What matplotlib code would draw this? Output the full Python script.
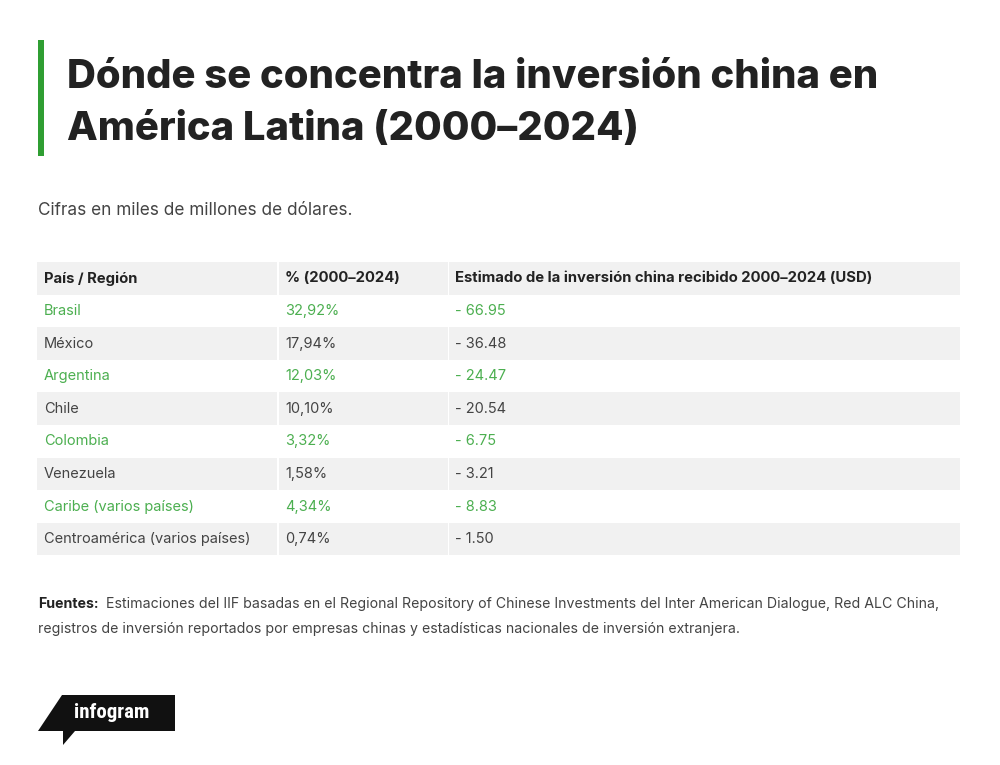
import matplotlib
matplotlib.use('agg')
import matplotlib.pyplot as plt
from matplotlib.patches import Rectangle, Polygon

# data
title_lines = ['Dónde se concentra la inversión china en', 'América Latina (2000–2024)']
subtitle = 'Cifras en miles de millones de dólares.'
headers = ['País / Región', '% (2000–2024)', 'Estimado de la inversión china recibido 2000–2024 (USD)']
regions = ['Brasil', 'México', 'Argentina', 'Chile', 'Colombia', 'Venezuela',
           'Caribe (varios países)', 'Centroamérica (varios países)']
shares = ['32,92%', '17,94%', '12,03%', '10,10%', '3,32%', '1,58%', '4,34%', '0,74%']
amounts = ['- 66.95', '- 36.48', '- 24.47', '- 20.54', '- 6.75', '- 3.21', '- 8.83', '- 1.50']
source_bold = 'Fuentes:'
source_lines = ['Estimaciones del IIF basadas en el Regional Repository of Chinese Investments del Inter American Dialogue, Red ALC China,',
                'registros de inversión reportados por empresas chinas y estadísticas nacionales de inversión extranjera.']

GREEN = '#2f9e32'
GREEN_TXT = '#4caf50'
DARK = '#222222'
BODY = '#444444'
GRAY_BG = '#f1f1f1'

plt.rcParams['font.family'] = ['Inter', 'DejaVu Sans']

fig = plt.figure(figsize=(10, 7.65), dpi=100)
ax = fig.add_axes([0, 0, 1, 1])
ax.set_xlim(0, 1000)
ax.set_ylim(765, 0)
ax.axis('off')

# title block
ax.add_patch(Rectangle((38, 40), 6, 116, color=GREEN, lw=0))
ax.text(67, 77, title_lines[0], fontsize=28.8, fontweight='heavy', color=DARK, va='center')
ax.text(67, 129, title_lines[1], fontsize=28.8, fontweight='heavy', color=DARK, va='center')
ax.text(38, 210, subtitle, fontsize=12.4, color=BODY, va='center')

# table
col_x = [37, 278, 448, 960]
top = 262
row_h = 32.6
n = len(regions) + 1
for i in range(n):
    y0 = top + i * row_h
    bg = GRAY_BG if i % 2 == 0 else 'white'
    for c in range(3):
        ax.add_patch(Rectangle((col_x[c] + (1 if c else 0), y0), col_x[c + 1] - col_x[c] - 1, row_h,
                               color=bg, lw=0))

for c, h in enumerate(headers):
    ax.text(col_x[c] + 7, top + row_h / 2, h, fontsize=10.7, fontweight='bold',
            color=DARK, va='center')

for i, (r, s, a) in enumerate(zip(regions, shares, amounts)):
    yc = top + (i + 1) * row_h + row_h / 2
    col = GREEN_TXT if i % 2 == 0 else BODY
    for c, t in enumerate([r, s, a]):
        ax.text(col_x[c] + 7, yc, t, fontsize=10.5, color=col, va='center')

# sources
ax.text(38, 604, source_bold, fontsize=10.2, fontweight='bold', color=DARK, va='center')
ax.text(106, 604, source_lines[0], fontsize=10.2, color=BODY, va='center')
ax.text(38, 629, source_lines[1], fontsize=10.2, color=BODY, va='center')

# infogram badge
ax.add_patch(Polygon([(62, 695), (175, 695), (175, 731), (75, 731), (63, 745), (63, 731), (38, 731)],
                     closed=True, color='#111111', lw=0))
ax.text(112, 713, 'infogram', fontsize=15, fontweight='bold', color='white',
        va='center', ha='center', family=['Roboto Condensed', 'Roboto', 'DejaVu Sans'])

fig.savefig('out.png', dpi=100)
